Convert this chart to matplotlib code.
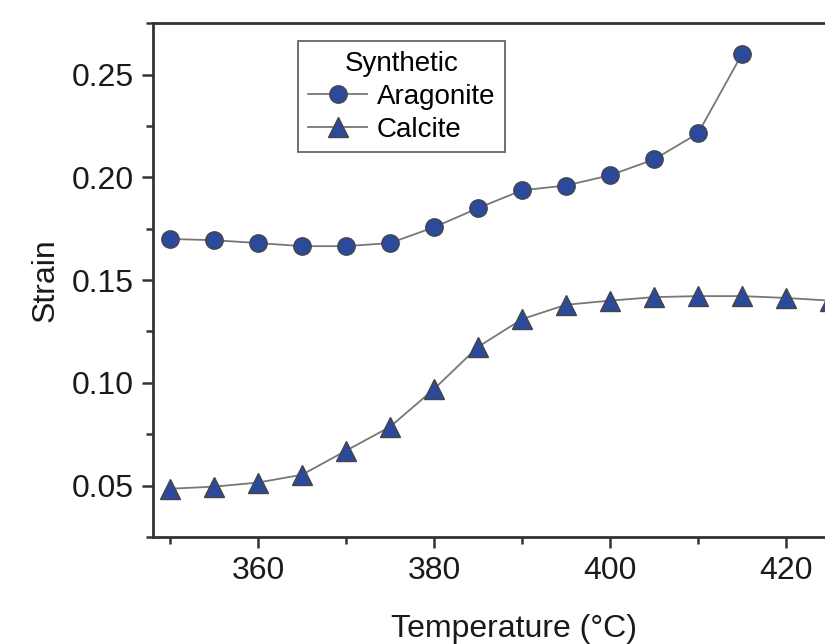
import numpy as np
import matplotlib
matplotlib.use("Agg")
import matplotlib.pyplot as plt
from matplotlib.ticker import MultipleLocator

plt.rcParams['font.family'] = ['Liberation Sans', 'DejaVu Sans']

# temperatures (°C) and strain values
temp_aragonite = [350, 355, 360, 365, 370, 375, 380, 385, 390, 395, 400, 405, 410, 415]
strain_aragonite = [0.170, 0.1694, 0.168, 0.1665, 0.1665, 0.168, 0.1757, 0.185,
                    0.1937, 0.196, 0.201, 0.2087, 0.2214, 0.260]

temp_calcite = [350, 355, 360, 365, 370, 375, 380, 385, 390, 395, 400, 405, 410, 415, 420, 425]
strain_calcite = [0.0485, 0.0495, 0.0515, 0.0553, 0.067, 0.0786, 0.097, 0.1175,
                  0.131, 0.138, 0.140, 0.1417, 0.1422, 0.1422, 0.1413, 0.140]

blue = '#2b4a9c'
edge = '#454545'
line_c = '#777777'

fig = plt.figure(figsize=(8.25, 6.44), dpi=100)
ax = fig.add_axes([0.1855, 0.1661, 0.874, 0.798])

ax.plot(temp_aragonite, strain_aragonite, '-o', color=line_c, lw=1.3,
        mfc=blue, mec=edge, mew=1.0, ms=12.5, label='Aragonite')
ax.plot(temp_calcite, strain_calcite, '-^', color=line_c, lw=1.3,
        mfc=blue, mec=edge, mew=1.0, ms=14, label='Calcite')

ax.set_xlim(348.07, 430)
ax.set_ylim(0.025, 0.275)

ax.xaxis.set_major_locator(MultipleLocator(20))
ax.xaxis.set_minor_locator(MultipleLocator(10))
ax.yaxis.set_major_locator(MultipleLocator(0.05))
ax.yaxis.set_minor_locator(MultipleLocator(0.025))
ax.yaxis.set_major_formatter(plt.FuncFormatter(lambda v, p: f"{v:.2f}"))

for s in ['left', 'bottom', 'top']:
    ax.spines[s].set_linewidth(2)
    ax.spines[s].set_color('#333333')
ax.spines['right'].set_visible(False)

ax.tick_params(which='both', direction='out', width=1.8, colors='#333333',
               top=False, right=False, labelsize=23, labelcolor='#1a1a1a')
ax.tick_params(which='major', length=8, pad=6)
ax.tick_params(which='minor', length=5)

ax.set_xlabel('Temperature (°C)', fontsize=23, color='#1a1a1a', labelpad=20)
ax.set_ylabel('Strain', fontsize=23, color='#1a1a1a', labelpad=8)

leg = ax.legend(title='Synthetic', loc='upper left', bbox_to_anchor=(0.201, 0.965),
                fontsize=20, title_fontsize=20, fancybox=False, framealpha=1,
                edgecolor='#666666', handlelength=2.15, handletextpad=0.33,
                borderpad=0.35, labelspacing=0.25, borderaxespad=0)
leg.get_frame().set_linewidth(1.3)

fig.savefig('out.png', dpi=100)
